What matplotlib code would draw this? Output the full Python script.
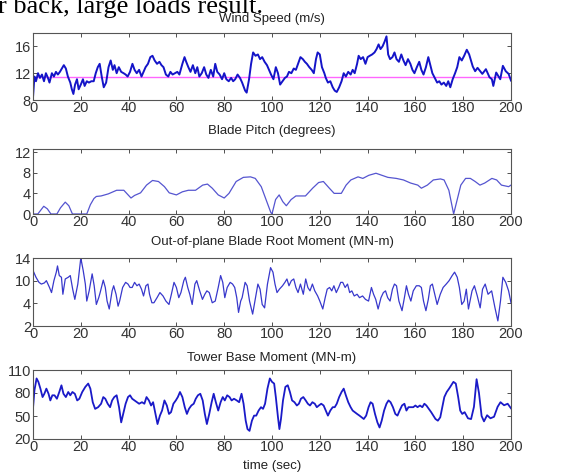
import matplotlib
matplotlib.use("Agg")
import matplotlib.pyplot as plt

plt.rcParams["font.family"] = ["Liberation Sans", "DejaVu Sans"]

# values, (time in s, value)
wind_points = [
    (0, 8.4), (0.6, 11.5), (1.25, 10.8), (2.1, 12), (2.9, 11.3), (3.75, 11.8), (4.6, 10.8), (5.4, 12),
    (6.25, 11.3), (6.9, 10.6), (7.9, 12), (8.75, 11.5), (9.6, 12.2), (10.4, 11.8), (11.25, 12.2),
    (12.1, 12.7), (12.9, 13.2), (13.75, 12.7), (14.6, 11.5), (15.6, 10.6), (16.25, 9.6), (16.9, 8.9),
    (17.6, 10.3), (18.4, 11.1), (19.1, 9.6), (20, 10.3), (20.9, 11.1), (21.6, 10.1), (22.5, 10.8),
    (23.4, 10.6), (24.4, 10.8), (25.4, 10.8), (26.25, 12), (27.1, 12.9), (27.9, 13.4), (28.75, 11.5),
    (29.6, 9.9), (30.6, 10.6), (31.6, 12.9), (32.5, 13.9), (33.4, 12.5), (34.1, 13.2), (35, 12),
    (35.9, 12.9), (36.9, 12.2), (37.9, 12), (38.75, 11.8), (39.6, 11.5), (40.6, 12.2), (41.6, 13.4),
    (42.5, 12.5), (43.4, 12), (44.4, 12.5), (45.4, 11.5), (46.25, 12.2), (47.1, 12.9), (48.1, 13.4),
    (49.1, 14.4), (50, 14.6), (50.9, 13.9), (51.9, 13.4), (52.9, 13.7), (53.75, 13.2), (54.6, 12.9),
    (55.6, 11.8), (56.6, 11.5), (57.5, 12.2), (58.4, 11.8), (59.4, 12), (60.4, 12.2), (61.25, 11.8),
    (62.5, 13.4), (63.4, 14.4), (64.1, 13.7), (65, 12.9), (65.9, 12.2), (66.9, 13.2), (67.9, 12),
    (68.75, 12.9), (69.6, 11.5), (70.6, 12), (71.6, 12.9), (72.5, 11.8), (73.4, 11.3), (74.4, 12.5),
    (75.4, 11.5), (76.25, 13.4), (77.1, 12.2), (78.1, 11.8), (79.1, 11.1), (80, 12), (80.9, 11.1),
    (81.9, 10.8), (82.9, 11.3), (83.75, 10.8), (84.6, 11.1), (85.6, 11.8), (86.6, 11.3), (87.5, 10.6),
    (88.75, 9.4), (89.4, 9.1), (90.4, 11.1), (91.25, 13.4), (92.1, 15.1), (93.1, 14.6), (94.1, 14.8),
    (95, 14.1), (95.9, 14.4), (96.9, 13.7), (97.9, 13.2), (98.75, 12.5), (99.6, 11.8), (100.6, 11.1),
    (101.6, 12.9), (102.5, 12), (103.4, 10.3), (104.4, 10.8), (105.4, 11.3), (106.25, 11.5),
    (107.1, 12.2), (108.1, 12), (109.1, 12.7), (110, 12.5), (110.9, 13.4), (111.9, 14.4),
    (112.9, 14.1), (113.75, 13.7), (114.6, 13.4), (115.6, 12.9), (116.6, 12.5), (117.5, 12),
    (118.4, 14.1), (119.1, 15.1), (120, 14.8), (120.9, 12.9), (121.9, 12), (122.5, 11.3),
    (123.4, 10.6), (124.4, 10.8), (125.4, 9.9), (126.25, 9.4), (127.1, 9.2), (128.1, 9.9),
    (129.1, 10.8), (130, 12), (130.9, 11.5), (131.9, 12.2), (132.9, 11.8), (133.75, 12.5),
    (134.6, 12), (135.6, 13.4), (136.25, 14.6), (137.1, 14.1), (138.1, 14.4), (139.1, 13.4),
    (140, 14.4), (140.9, 14.6), (141.9, 14.8), (142.9, 15.1), (143.75, 15.6), (144.6, 16.3),
    (145.4, 15.6), (146.25, 16), (147.1, 16.7), (147.9, 17.5), (148.6, 14.8), (149.4, 14.1),
    (150.4, 14.4), (151.25, 15.1), (152.1, 14.1), (153.1, 13.7), (154.1, 14.8), (155, 13.9),
    (155.9, 13.2), (156.9, 14.1), (157.9, 13.4), (158.75, 12.5), (159.6, 12), (160.6, 12.9),
    (161.6, 13.7), (162.5, 12.5), (163.4, 11.8), (164.4, 12.9), (165.4, 14.4), (166.25, 13.2),
    (167.1, 12), (168.1, 11.3), (169.1, 10.6), (170, 10.8), (170.9, 10.3), (171.9, 10.6),
    (172.9, 10.1), (173.75, 10.8), (174.6, 9.9), (175.6, 11.1), (176.6, 12), (177.5, 12.9),
    (178.4, 14.4), (179.4, 13.9), (180.4, 14.6), (181.5, 15.5), (182.5, 14.8), (184, 13),
    (185, 12.3), (186, 12.8), (188, 11.9), (189.5, 12.6), (191, 11.4), (192, 11.1), (192.6, 10.1),
    (193.8, 12.1), (195.5, 11.1), (196.6, 13.1), (197.8, 12.3), (199, 11.9), (200, 10.9),
]
rated_wind = 11.4

pitch_points = [
    (0, 0), (2, 0), (3, 0.6), (4.5, 1.5), (6, 1.0), (7.5, 0), (10, 0), (11.5, 1.2), (13.5, 2.3),
    (15, 1.6), (16.5, 0), (22.5, 0), (24, 1.8), (25.5, 3.0), (26.5, 3.4), (28.5, 3.5), (31.5, 3.9),
    (35, 4.6), (38, 4.6), (41, 3.1), (42.5, 3.6), (45, 4.1), (47.5, 5.6), (50, 6.5), (52.5, 6.3),
    (55, 5.3), (57, 4.1), (60, 3.7), (62.5, 4.3), (65, 4.6), (68, 4.6), (71, 5.6), (73, 5.8),
    (75, 5), (77.5, 3.7), (80, 3.1), (82, 4), (85, 6.3), (88, 7.1), (91, 7.2), (93, 6.9),
    (95.5, 5.3), (97.5, 2.8), (99.5, 0.3), (100, 0), (101.5, 2.8), (103, 3.7), (104.5, 2.4),
    (106, 1.6), (108, 2.8), (110, 3.5), (114, 3.5), (117, 5), (119.5, 6.1), (121.5, 6.3),
    (124, 5), (126, 4), (129, 4), (131, 5.6), (133, 6.6), (136, 7.2), (138, 6.9), (140.5, 7.5),
    (143.5, 7.9), (146, 7.5), (148.5, 7.1), (152, 6.9), (155, 6.6), (158, 6), (161, 5.6),
    (162.5, 5), (165, 5.6), (167.5, 6.6), (170.5, 6.8), (172, 6.6), (174, 4.6), (176, 0),
    (177.5, 2.8), (179, 5.6), (181, 6.9), (183, 6.9), (185, 6.3), (187, 5.6), (189, 6),
    (192, 6.9), (194, 6.6), (196, 5.6), (199, 5.3), (200, 5.6),
]

root_moment_points = [
    (0, 11.8), (1.25, 10.6), (2.5, 9.7), (3.5, 9.4), (4.75, 9.6), (5.6, 10), (6.9, 8.8), (7.75, 7.9),
    (8.75, 10), (9.75, 11.5), (10.25, 12.6), (11, 10.9), (11.9, 10.6), (12.5, 7.6), (13.5, 10.3),
    (14.75, 10.6), (15.6, 10.9), (16.6, 8.5), (17.5, 6.7), (18.75, 9.4), (20, 14), (21, 11.8),
    (21.9, 9.4), (22.5, 6.4), (23.5, 8.2), (24.75, 11.2), (25.6, 9.1), (26.5, 5.8), (27.5, 7),
    (28.1, 7.9), (29.4, 10.1), (30.25, 8.8), (31, 6.4), (31.9, 5), (33.1, 8.2), (33.75, 9.1),
    (34.75, 7.6), (35.6, 5.5), (36.25, 6.4), (37.5, 8.8), (38.75, 9.7), (39.75, 9.4), (40.6, 8.8),
    (41.5, 8.8), (42.5, 9.7), (43.5, 9.1), (44.4, 9.4), (45.4, 8.5), (46.25, 7.3), (47.25, 9.1),
    (48.1, 9.4), (48.75, 7.6), (49.75, 6.1), (50.6, 6.1), (51.9, 7), (53.1, 7.9), (54.4, 7.3),
    (55.6, 6.4), (56.9, 5.8), (57.9, 7.6), (59, 9.7), (60, 8.8), (61, 7), (61.9, 7.9), (63.1, 10),
    (63.75, 10.6), (64.75, 8.8), (65.6, 7.6), (66.6, 5.8), (67.75, 9.4), (68.5, 10), (69.75, 8.2),
    (70.9, 6.7), (71.9, 7.6), (72.75, 8.2), (73.75, 7.9), (75, 6.1), (76.25, 6.4), (77.5, 8.8),
    (78.5, 10.9), (79.4, 9.7), (80.25, 7), (81.25, 8.8), (82.5, 9.7), (83.5, 9.4), (84.4, 8.8),
    (85.25, 7), (86, 4.4), (86.9, 6.4), (87.5, 7), (88.75, 9.7), (89.6, 9.1), (90.6, 6.4),
    (91.9, 4.1), (93.1, 7), (94.1, 9.4), (95, 8.5), (95.9, 5.8), (96.9, 5.2), (98.1, 9.4),
    (99.4, 12.3), (100.4, 11.5), (101.25, 9.4), (102.1, 7.9), (103.1, 8.5), (104.4, 9.1),
    (105.4, 9.7), (106.25, 10.3), (107.1, 9.1), (108.1, 10), (109.1, 10.3), (110, 8.8),
    (110.9, 7.9), (111.9, 9.4), (113.1, 7.6), (114.1, 10.3), (115, 8.8), (115.9, 8.2),
    (116.9, 9.4), (117.9, 8.2), (119.1, 7.3), (120, 6.4), (121.25, 5), (122.25, 7), (123.1, 8.5),
    (124.1, 8.8), (125, 8.2), (125.9, 9.1), (126.9, 7.9), (127.9, 8.8), (128.75, 9.7),
    (129.6, 9.7), (130.6, 8.8), (131.6, 9.4), (132.5, 7.9), (133.4, 8.2), (134.4, 7.3),
    (135.6, 7.6), (136.6, 7), (137.9, 7.3), (139.1, 6.7), (140.4, 6.4), (141.6, 8.8), (142.5, 7.6),
    (143.4, 6.7), (144.4, 5), (145.6, 7), (146.6, 7.9), (147.5, 8.2), (148.4, 7), (149.4, 6.4),
    (150.4, 8.5), (151.25, 9.4), (152.1, 9.1), (153.1, 6.4), (154.4, 4.7), (155.4, 7),
    (156.25, 9.1), (157.1, 7.6), (158.1, 6.4), (159.1, 8.2), (160.4, 9.1), (161.6, 9.1),
    (162.5, 8.8), (163.4, 6.4), (164.4, 4.7), (165.4, 6.7), (166.25, 9.1), (167.1, 9.4),
    (168.1, 7.6), (169.1, 5.8), (170.4, 7.6), (171.6, 8.8), (172.9, 9.4), (174.1, 10),
    (175.4, 10.9), (176.4, 11.5), (177.5, 10.6), (178.4, 8.8), (179.4, 5.8), (180.4, 6.4),
    (181.3, 8.5), (182.2, 5), (183.7, 8.2), (184.7, 9.1), (185.9, 7.3), (187.1, 5.2), (188.1, 8.5),
    (189.2, 9.4), (190.4, 7.6), (191.9, 8.2), (193.3, 5.2), (194.5, 2.9), (195.6, 6.4),
    (196.6, 10.6), (197.8, 9.7), (199, 8.2), (200, 6.1),
]

tower_moment_points = [
    (0, 60), (0.6, 83.5), (1.5, 99), (2.25, 94.5), (3.1, 85.7), (4, 74.7), (4.75, 79), (5.6, 85.7),
    (6.5, 79), (7.25, 70.3), (8.1, 77), (9, 77), (10, 72.5), (11, 81.3), (11.9, 90), (12.75, 79),
    (13.75, 74.7), (14.75, 81.3), (15.6, 77), (16.5, 81.3), (17.5, 79), (18.5, 70.3), (19.4, 72.5),
    (20.6, 81.3), (21.9, 88), (23.1, 92.3), (24, 85.7), (25, 68), (26, 59.3), (27.25, 61.5),
    (28.5, 66), (29.4, 74.7), (30.25, 72.5), (31.25, 66), (32.25, 61.5), (33.1, 70.3), (34, 74.7),
    (35, 77), (36, 61.5), (36.9, 41.7), (37.75, 52.7), (38.75, 66), (39.75, 74.7), (40.6, 77),
    (41.5, 72.5), (42.5, 70.3), (43.5, 68), (44.4, 66), (45.6, 68), (46.6, 66), (47.5, 74.7),
    (48.5, 70.3), (49.4, 63.7), (50.25, 68), (51.25, 52.7), (52.1, 39.5), (53.1, 50.5), (54, 57.1),
    (55, 70.3), (56, 63.7), (56.9, 52.7), (57.75, 55), (58.75, 66), (59.75, 70.3), (60.6, 74.7),
    (61.5, 81.3), (62.5, 74.7), (63.5, 61.5), (64.4, 52.7), (65.25, 59.3), (66.25, 63.7),
    (67.25, 66), (68.1, 72.5), (69, 77), (70, 79), (71, 70.3), (71.9, 52.7), (72.75, 39.5),
    (73.75, 52.7), (74.75, 68), (75.6, 79), (76.5, 68), (77.5, 57.1), (78.5, 68), (79.4, 74.7),
    (80.25, 70.3), (81.25, 77), (82.25, 74.7), (83.1, 70.3), (84.1, 72.5), (85.25, 70.3),
    (86.25, 68), (87.25, 79), (88.1, 66), (89, 43.9), (89.75, 32.9), (90.6, 30.6), (91.6, 43.9),
    (92.5, 50.5), (93.4, 50.5), (94.4, 57.1), (95.4, 61.5), (96.25, 59.3), (97.1, 66),
    (98.1, 85.7), (99.1, 99), (100, 94.5), (100.9, 92.3), (101.6, 74.7), (102.5, 48.3),
    (103.1, 32.9), (103.75, 46.1), (104.6, 70.3), (105.6, 88), (106.6, 90.1), (107.5, 81.3),
    (108.4, 70.3), (109.4, 68), (110.4, 63.7), (111.25, 66), (112.1, 72.5), (113.1, 74.7),
    (114.1, 70.3), (115, 66), (115.9, 63.7), (116.9, 68), (117.9, 66), (118.75, 61.5),
    (119.6, 63.7), (120.6, 66), (121.6, 63.7), (122.5, 57.1), (123.4, 50.5), (124.4, 57.1),
    (125.4, 61.5), (126.25, 61.5), (127.1, 66), (128.1, 74.7), (129.1, 81.3), (130, 85.7),
    (130.9, 77), (131.9, 68), (132.9, 61.5), (133.75, 57.1), (134.6, 55), (135.6, 52.7),
    (136.6, 50.5), (137.5, 48.3), (138.4, 46.1), (139.4, 50.5), (140.4, 61.5), (141.25, 68),
    (142.1, 66), (143.1, 52.7), (144.1, 41.7), (145, 35), (145.9, 43.9), (146.9, 57.1),
    (147.9, 66), (148.75, 70.3), (149.6, 68), (150.6, 61.5), (151.6, 52.7), (152.5, 50.5),
    (153.4, 57.1), (154.4, 63.7), (155.4, 66), (156.25, 57.1), (157.1, 61.5), (158.1, 61.5),
    (159.1, 61.5), (160, 63.7), (160.9, 61.5), (161.9, 63.7), (162.9, 61.5), (163.75, 66),
    (164.6, 63.7), (165.6, 59.3), (166.6, 55), (167.5, 50.5), (168.4, 46.1), (169.4, 43.9),
    (170.4, 48.3), (171.25, 61.5), (172.1, 74.7), (173.1, 81.3), (174.1, 85.7), (175, 90.1),
    (175.9, 94.5), (176.9, 92.3), (177.9, 74.7), (178.75, 57.1), (179.6, 52.7), (180.6, 55),
    (182, 47), (183.3, 46), (184.5, 62), (185.6, 98), (186.6, 80), (187.7, 50), (188.7, 43),
    (190, 51), (191.4, 47), (192.9, 49), (194.4, 62), (195.6, 68), (197.1, 64), (198.6, 66),
    (200, 60),
]

titles = ["Wind Speed (m/s)", "Blade Pitch (degrees)",
          "Out-of-plane Blade Root Moment (MN-m)", "Tower Base Moment (MN-m)"]
x_ticks = list(range(0, 201, 20))
wind_yticks = [8, 12, 16]
pitch_yticks = [0, 4, 8, 12]
root_yticks = [2, 6, 10, 14]
root_ytick_labels = ["2", "4", "10", "14"]   # as printed in the picture
tower_yticks = [20, 50, 80, 110]
caption_fragment = "r back, large loads result."


def split(points):
    return [p[0] for p in points], [p[1] for p in points]


W, H = 577, 476
fig = plt.figure(figsize=(W / 100, H / 100), dpi=100)

left, right = 33, 511
# (top, bottom) of each panel in pixels
boxes = [(33, 100), (149, 214), (258, 326), (370, 439)]
title_y = [19, 131, 242, 358]

axes = []
for (top, bot) in boxes:
    ax = fig.add_axes([left / W, 1 - bot / H, (right - left) / W, (bot - top) / H])
    ax.set_xlim(0, 200)
    ax.set_xticks(x_ticks)
    ax.tick_params(direction="in", length=3, width=0.6, top=True, right=True,
                   labelsize=10.5, colors="#333333")
    ax.tick_params(axis="x", pad=1)
    ax.tick_params(axis="y", pad=1.5)
    for sp in ax.spines.values():
        sp.set_color("#555555")
        sp.set_linewidth(0.8)
    axes.append(ax)

ax1, ax2, ax3, ax4 = axes

t, v = split(wind_points)
ax1.plot(t, v, color="#1414c8", lw=1.4)
ax1.axhline(rated_wind, color="#ff66ff", lw=1.0, zorder=1)
ax1.set_ylim(8, 18)
ax1.set_yticks(wind_yticks)

t, v = split(pitch_points)
ax2.plot(t, v, color="#5555d0", lw=0.9)
ax2.set_ylim(0, 12.6)
ax2.set_yticks(pitch_yticks)

t, v = split(root_moment_points)
ax3.plot(t, v, color="#3838cc", lw=0.9)
ax3.set_ylim(2, 14)
ax3.set_yticks(root_yticks)
ax3.set_yticklabels(root_ytick_labels)

t, v = split(tower_moment_points)
ax4.plot(t, v, color="#1a1ac8", lw=1.3)
ax4.set_ylim(20, 110)
ax4.set_yticks(tower_yticks)

cx = (left + right) / 2 / W
for ttl, ty in zip(titles, title_y):
    fig.text(cx, 1 - ty / H, ttl, ha="center", va="center", fontsize=9.5, color="#222222")
fig.text(cx, 1 - 466 / H, "time (sec)", ha="center", va="center", fontsize=9.5, color="#222222")

# the page text above the figure is cut by the crop, as in the picture
fig.text(-0.004, 1 - 12.7 / H, caption_fragment, ha="left", va="baseline",
         fontsize=19, family=["Liberation Serif", "DejaVu Serif"], color="black")

fig.savefig("out.png", dpi=100)
